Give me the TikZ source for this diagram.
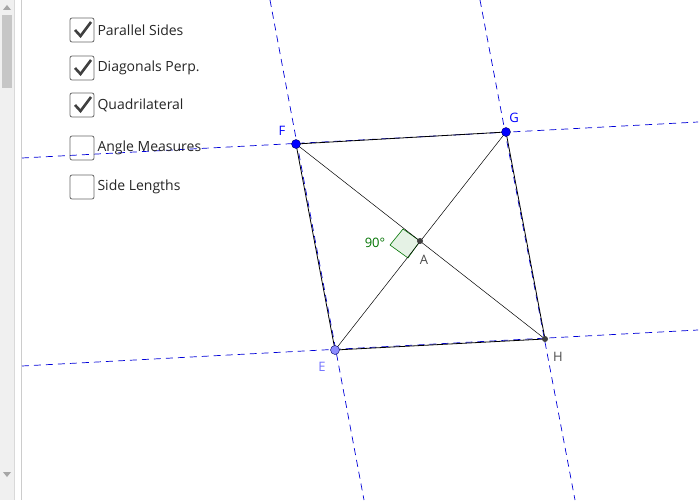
\documentclass[tikz,border=0pt]{standalone}
\usepackage{fontspec}
\setmainfont{Open Sans}
\begin{document}
\begin{tikzpicture}[x=1pt,y=-1pt,
  dline/.style={blue!85!black,dash pattern=on 7pt off 5pt,line width=0.7pt},
  side/.style={black,line width=0.8pt},
  diag/.style={black,line width=0.5pt},
  cb/.style={draw=gray!80!black,rounded corners=2pt,minimum size=24pt,line width=0.8pt},
  cbl/.style={anchor=west,font=\fontsize{14}{16}\selectfont,text=black!85},
  pt/.style={circle,fill=blue,draw=blue!40!black,inner sep=0pt,minimum size=9pt},
  lab/.style={font=\fontsize{13}{15}\selectfont}]
\useasboundingbox (0,0) rectangle (700,500);
\fill[white] (0,0) rectangle (700,500);
% scroll bar
\fill[gray!12] (0,0) rectangle (14,500);
\fill[gray!45] (2,15) rectangle (12,88);
\draw[gray!40] (21,0) -- (21,500);
\draw[gray!30] (14,0) -- (14,500);
\fill[gray!70] (3,10) -- (7,5) -- (11,10) -- cycle;
\fill[gray!70] (3,472) -- (7,477) -- (11,472) -- cycle;
% points
\coordinate (F) at (296,144);
\coordinate (G) at (506,132);
\coordinate (H) at (545,339);
\coordinate (E) at (335,350);
\coordinate (A) at (420,241);
% dashed lines
\draw[dline] (22,158) -- (698,122);
\draw[dline] (22,366) -- (698,330);
\draw[dline] (270,0) -- (364,500);
\draw[dline] (480,0) -- (575,500);
% right angle
\filldraw[fill=green!50!black!10,draw=green!45!black,line width=0.6pt] (A) -- (403,229) -- (390,245) -- (408,258) -- cycle;
\node[lab,text=green!45!black] (deg) at (375,243) {90°};
% quadrilateral
\draw[side] (F) -- (G) -- (H) -- (E) -- cycle;
\draw[diag] (F) -- (H);
\draw[diag] (G) -- (E);
\node[pt] (nF) at (F) {};
\node[pt] (nG) at (G) {};
\node[circle,fill=blue!45,draw=blue!40!black,inner sep=0pt,minimum size=9pt] (nE) at (E) {};
\node[circle,fill=black!75,inner sep=0pt,minimum size=6pt] (nH) at (H) {};
\node[circle,fill=black!75,inner sep=0pt,minimum size=6pt] (nA) at (A) {};
\node[lab,text=blue] (lF) at (282,131) {F};
\node[lab,text=blue] (lG) at (514,118) {G};
\node[lab,text=blue!55] (lE) at (322,367) {E};
\node[lab,text=black!70] (lH) at (558,357) {H};
\node[lab,text=black!70] (lA) at (424,260) {A};
% checkboxes
\foreach \y/\t/\c [count=\i] in {30/Parallel Sides/1,68/Diagonals Perp./1,105/Quadrilateral/1,148/Angle Measures/0,187/Side Lengths/0}{
  \node[cb] (b\i) at (82,\y) {};
  \node[cbl] (t\i) at (94,\y) {\t};
  \ifnum\c=1 \draw[black!75,line width=2.6pt] (75,\y) -- (80.5,\y+6) -- (91,\y-8); \fi
}
\end{tikzpicture}
\end{document}
